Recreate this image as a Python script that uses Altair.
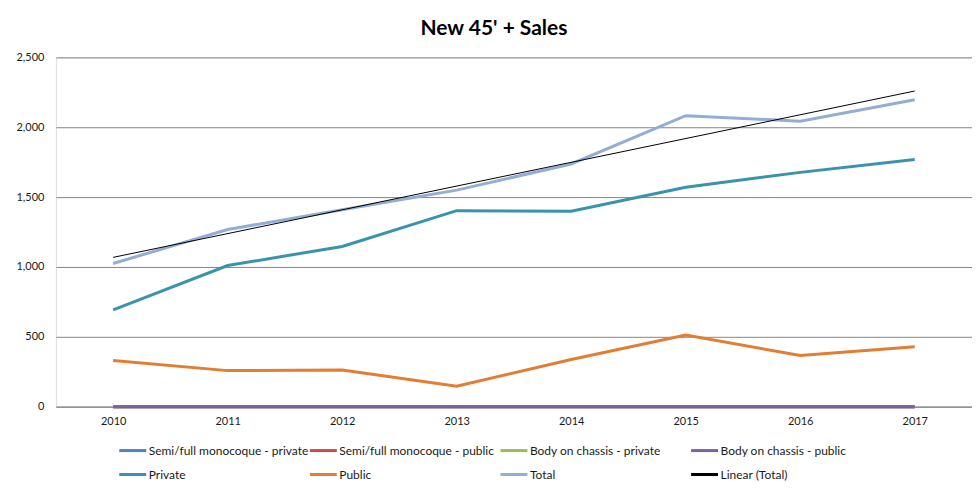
import altair as alt
import pandas as pd

years = [2010, 2011, 2012, 2013, 2014, 2015, 2016, 2017]

series_names = [
    "Semi/full monocoque - private",
    "Semi/full monocoque - public",
    "Body on chassis - private",
    "Body on chassis - public",
    "Private",
    "Public",
    "Total",
    "Linear (Total)",
]
series_colors = ["#4F81BD", "#C0504D", "#9BBB59", "#7F5FA0",
                 "#3A93AD", "#E27D34", "#93ADD4", "#000000"]

semi_private = [0, 0, 0, 0, 0, 0, 0, 0]
semi_public = [0, 0, 0, 0, 0, 0, 0, 0]
body_private = [0, 0, 0, 0, 0, 0, 0, 0]
body_public = [0, 0, 0, 0, 0, 0, 0, 0]
private = [693, 1010, 1147, 1403, 1399, 1571, 1677, 1769]
public = [330, 258, 262, 147, 338, 512, 366, 428]
total = [1025, 1268, 1409, 1550, 1737, 2083, 2043, 2197]

values = [semi_private, semi_public, body_private, body_public, private, public, total]

rows = []
for name, vals in zip(series_names[:7], values):
    for y, v in zip(years, vals):
        rows.append({"year": y, "value": v, "series": name})
df = pd.DataFrame(rows)

FONT = "Lato"

x_enc = alt.X("year:O", scale=alt.Scale(domain=years),
              axis=alt.Axis(title=None, labelAngle=0, ticks=False, domain=True,
                            domainColor="#868686", grid=False, labelPadding=9,
                            labelFont=FONT, labelFontSize=11, labelColor="#1a1a1a"))
y_enc = alt.Y("value:Q", scale=alt.Scale(domain=[0, 2500], nice=False),
              axis=alt.Axis(title=None, values=[0, 500, 1000, 1500, 2000, 2500],
                            format=",.0f", grid=True, gridColor="#868686", gridWidth=1,
                            domain=False, ticks=False, labelPadding=12,
                            labelFont=FONT, labelFontSize=11, labelColor="#1a1a1a"))
legend = alt.Legend(title=None, orient="none", legendX=62, legendY=379, columns=4,
                    direction="horizontal", gridAlign="all", symbolType="stroke",
                    symbolSize=729, symbolStrokeWidth=3, labelFont=FONT, labelFontSize=12,
                    labelColor="#1a1a1a", labelLimit=300, columnPadding=-6,
                    rowPadding=3, labelOffset=1)
color_enc = alt.Color("series:N", scale=alt.Scale(domain=series_names, range=series_colors),
                      legend=legend)

lines = alt.Chart(df).mark_line(strokeWidth=3).encode(x=x_enc, y=y_enc, color=color_enc)

trend = (
    alt.Chart(df)
    .transform_filter(alt.datum.series == "Total")
    .transform_regression("year", "value")
    .transform_calculate(series="'Linear (Total)'")
    .mark_line(strokeWidth=1)
    .encode(x=x_enc, y=y_enc, color=color_enc)
)

chart = (
    alt.layer(lines, trend)
    .properties(
        width=918, height=350,
        title=alt.Title("New 45' + Sales", font=FONT, fontSize=21, fontWeight="bold",
                        anchor="middle", frame="bounds", offset=12, color="#000000"),
        autosize=alt.AutoSizeParams(type="none"),
        padding={"left": 48, "top": 49, "right": 0, "bottom": 74},
    )
    .configure_view(stroke=None)
    .configure(background="white")
)

chart.save("out.html", embed_options={"renderer": "svg", "actions": False})
